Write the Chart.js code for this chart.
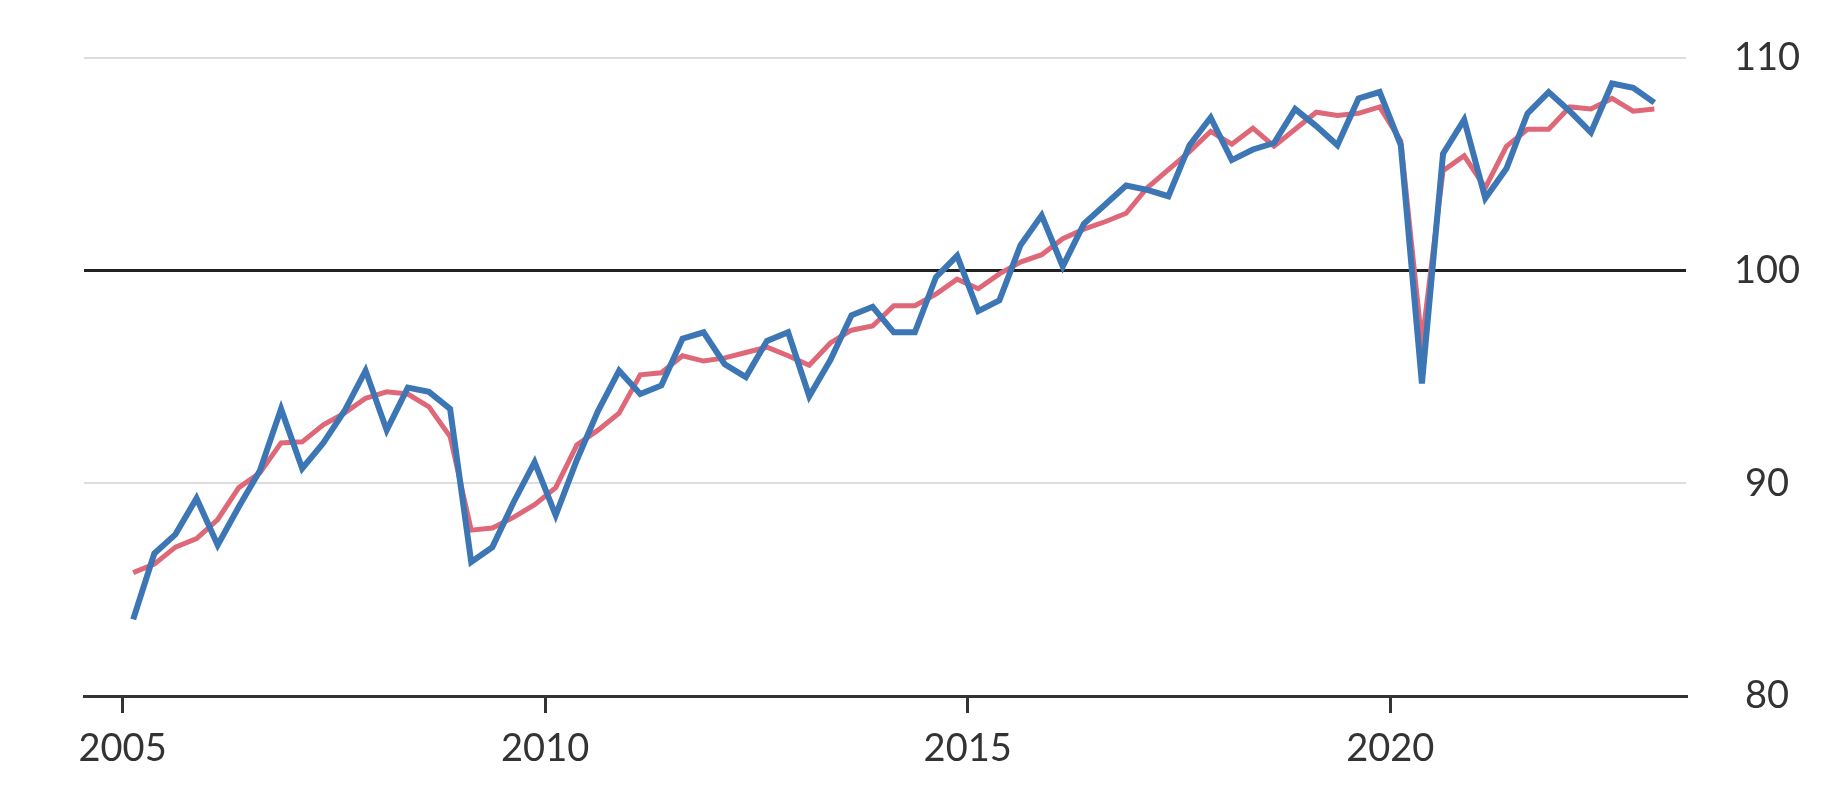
<!DOCTYPE html>
<html>
<head>
<meta charset="utf-8">
<script src="https://cdn.jsdelivr.net/npm/chart.js@4.4.1/dist/chart.umd.min.js"></script>
<style>
  html, body { margin: 0; padding: 0; background: #fff; }
  #wrap { width: 1836px; height: 804px; position: relative; }
</style>
</head>
<body>
<div id="wrap"><canvas id="chart"></canvas></div>
<script>
// quarterly periods, Q1 2005 .. Q1 2023
const quarters = [
  '2005 Q1', '2005 Q2', '2005 Q3', '2005 Q4',
  '2006 Q1', '2006 Q2', '2006 Q3', '2006 Q4',
  '2007 Q1', '2007 Q2', '2007 Q3', '2007 Q4',
  '2008 Q1', '2008 Q2', '2008 Q3', '2008 Q4',
  '2009 Q1', '2009 Q2', '2009 Q3', '2009 Q4',
  '2010 Q1', '2010 Q2', '2010 Q3', '2010 Q4',
  '2011 Q1', '2011 Q2', '2011 Q3', '2011 Q4',
  '2012 Q1', '2012 Q2', '2012 Q3', '2012 Q4',
  '2013 Q1', '2013 Q2', '2013 Q3', '2013 Q4',
  '2014 Q1', '2014 Q2', '2014 Q3', '2014 Q4',
  '2015 Q1', '2015 Q2', '2015 Q3', '2015 Q4',
  '2016 Q1', '2016 Q2', '2016 Q3', '2016 Q4',
  '2017 Q1', '2017 Q2', '2017 Q3', '2017 Q4',
  '2018 Q1', '2018 Q2', '2018 Q3', '2018 Q4',
  '2019 Q1', '2019 Q2', '2019 Q3', '2019 Q4',
  '2020 Q1', '2020 Q2', '2020 Q3', '2020 Q4',
  '2021 Q1', '2021 Q2', '2021 Q3', '2021 Q4',
  '2022 Q1', '2022 Q2', '2022 Q3', '2022 Q4',
  '2023 Q1'
];

// smoother series (red)
const trendValues = [
  85.8, 86.2, 87.0, 87.4,
  88.3, 89.8, 90.5, 91.9,
  91.95, 92.75, 93.3, 94.0,
  94.3, 94.2, 93.6, 92.2,
  87.8, 87.9, 88.4, 89.0,
  89.8, 91.8, 92.5, 93.3,
  95.1, 95.2, 96.0, 95.75,
  95.9, 96.15, 96.4, 96.0,
  95.55, 96.6, 97.2, 97.4,
  98.35, 98.35, 98.9, 99.6,
  99.15, 99.85, 100.4, 100.75,
  101.5, 101.95, 102.3, 102.7,
  103.9, 104.75, 105.6, 106.55,
  105.95, 106.7, 105.85, 106.65,
  107.45, 107.3, 107.4, 107.7,
  106.1, 96.6, 104.7, 105.4,
  103.9, 105.85, 106.65, 106.65,
  107.7, 107.6, 108.1, 107.5,
  107.6
];

// volatile series (blue)
const actualValues = [
  83.6, 86.7, 87.6, 89.3,
  87.1, 88.9, 90.6, 93.5,
  90.7, 91.9, 93.4, 95.3,
  92.5, 94.5, 94.3, 93.5,
  86.3, 87.0, 89.1, 91.0,
  88.5, 91.1, 93.4, 95.3,
  94.2, 94.6, 96.8, 97.1,
  95.6, 95.0, 96.7, 97.1,
  94.1, 95.8, 97.9, 98.3,
  97.1, 97.1, 99.7, 100.7,
  98.1, 98.6, 101.2, 102.6,
  100.2, 102.2, 103.1, 104.0,
  103.8, 103.5, 105.9, 107.2,
  105.2, 105.7, 106.0, 107.6,
  106.8, 105.9, 108.1, 108.4,
  105.9, 94.7, 105.5, 107.1,
  103.4, 104.8, 107.4, 108.4,
  107.5, 106.5, 108.8, 108.6,
  107.9
];

const yearTicks = [2005, 2010, 2015, 2020];
const valueTicks = [80, 90, 100, 110];

// place each quarter in the middle of its span on a year axis
const quarterPos = (q) => {
  const [year, part] = q.split(' Q');
  return Number(year) + (Number(part) - 1) / 4 + 0.125;
};

const toPoints = (values) => values.map((v, i) => ({ x: quarterPos(quarters[i]), y: v }));

const TEXT = '#333333';
const FONT = { family: 'Lato, "Open Sans", sans-serif', size: 38 };

new Chart(document.getElementById('chart'), {
  type: 'line',
  data: {
    datasets: [
      {
        label: 'Actual',
        data: toPoints(actualValues),
        borderColor: '#3c76b4',
        borderWidth: 6,
        pointRadius: 0,
        tension: 0,
        order: 1,
      },
      {
        label: 'Trend',
        data: toPoints(trendValues),
        borderColor: '#df6878',
        borderWidth: 5,
        pointRadius: 0,
        tension: 0,
        order: 2,
      },
    ],
  },
  options: {
    responsive: true,
    maintainAspectRatio: false,
    animation: false,
    devicePixelRatio: 1,
    layout: { padding: { left: 84, top: 58, right: 0, bottom: 0 } },
    plugins: {
      legend: { display: false },
      tooltip: { enabled: false },
    },
    scales: {
      x: {
        type: 'linear',
        min: 2004.543,
        max: 2023.5,
        afterBuildTicks: (scale) => {
          scale.ticks = yearTicks.map((v) => ({ value: v }));
        },
        afterFit: (scale) => { scale.height = 108; },
        grid: {
          drawOnChartArea: false,
          drawTicks: true,
          tickLength: 17,
          color: TEXT,
          lineWidth: 3,
        },
        border: { display: true, color: TEXT, width: 3 },
        ticks: {
          color: TEXT,
          font: FONT,
          padding: 13,
          maxRotation: 0,
          callback: (v) => String(v),
        },
      },
      y: {
        position: 'right',
        min: 80,
        max: 110,
        afterBuildTicks: (scale) => {
          scale.ticks = valueTicks.map((v) => ({ value: v }));
        },
        afterFit: (scale) => { scale.width = 150; },
        grid: {
          drawTicks: true,
          tickLength: 48,
          tickColor: 'rgba(0,0,0,0)',
          color: (ctx) => {
            const v = ctx.tick && ctx.tick.value;
            if (v === 100) return '#222222';
            if (v === 80) return 'rgba(0,0,0,0)';
            return '#dddddd';
          },
          lineWidth: (ctx) => (ctx.tick && ctx.tick.value === 100 ? 3 : 2),
        },
        border: { display: false },
        ticks: {
          color: TEXT,
          font: FONT,
          padding: 0,
          crossAlign: 'center',
          callback: (v) => String(v),
        },
      },
    },
  },
});
</script>
</body>
</html>
